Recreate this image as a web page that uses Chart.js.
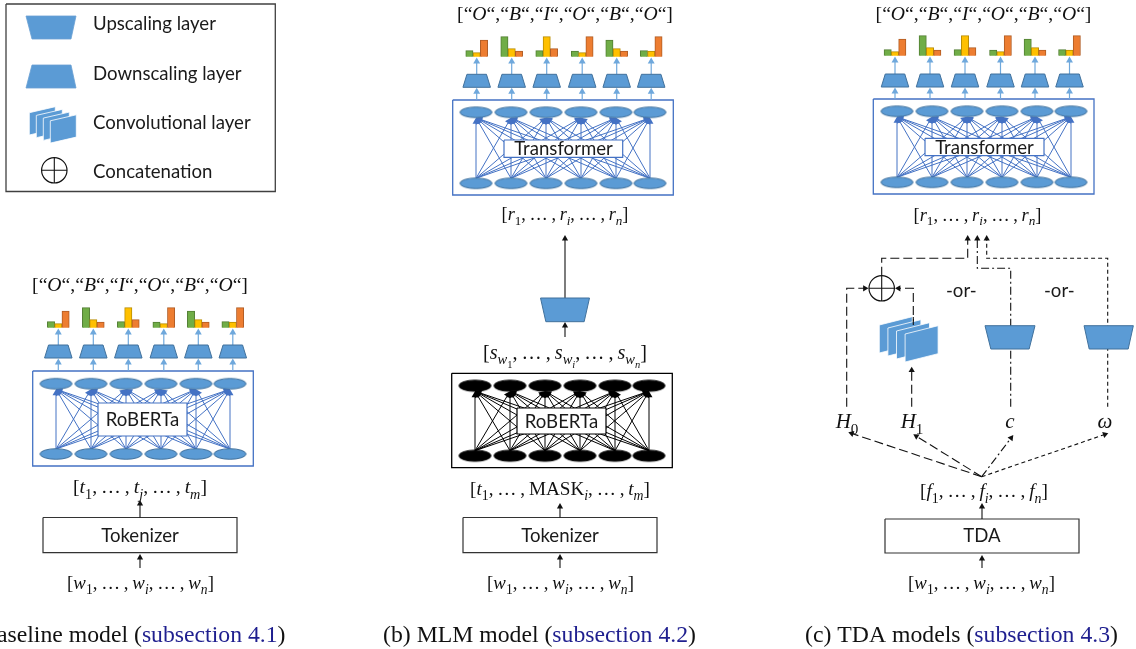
<!DOCTYPE html>
<html><head><meta charset="utf-8">
<style>html,body{margin:0;padding:0;background:#fff;overflow:hidden}canvas{display:block}</style>
<script src="https://cdn.jsdelivr.net/npm/chart.js@4"></script>
</head><body><canvas id="c" width="1136" height="649" style="width:1136px;height:649px"></canvas>
<script>
// ---- values ----
const tagSequence = ['O','B','I','O','B','O'];
const greenBars  = [6, 20, 6, 5.5, 16.5, 6];
const yellowBars = [4, 8, 20, 4, 8, 5.5];
const orangeBars = [16.5, 5.5, 8, 20, 5.5, 20];
const legendLabels = ['Upscaling layer','Downscaling layer','Convolutional layer','Concatenation'];
const boxLabels = ['RoBERTa','Transformer','Tokenizer','TDA'];
const orLabel = '-or-';
const captionLabels = ['(a) Baseline model (','(b) MLM model (','(c) TDA models ('];
const captionLinks = ['subsection 4.1','subsection 4.2','subsection 4.3'];

// ---- style ----
const BLUE='#5b9bd5', BLUE_EDGE='#41719c', NET='#4472c4', ARROW='#6fa8dc', INK='#1a1a1a';
const SOLID=[1000,0], LONG=[9,4], SHORT=[4,3], DASHDOT=[8,3,2,3];
const SANS='Lato', SERIF='"Liberation Serif"';
const ELL=',\u2009…\u2009,\u2009';
const datasets=[];

function pt(p){return {x:p[0],y:p[1]};}
function line(pts,color,width,dash){
  datasets.push({type:'scatter',showLine:true,data:pts.map(pt),borderColor:color,borderWidth:width,
    borderDash:dash||SOLID,pointRadius:0,fill:false,tension:0});
}
function arrow(pts,color,width,dash,r){
  const n=pts.length,a=pts[n-2],b=pts[n-1],dx=b[0]-a[0],dy=b[1]-a[1],L=Math.hypot(dx,dy);
  const c=[b[0]-dx/L*r,b[1]-dy/L*r];
  const path=pts.slice(0,n-1).concat([c]);
  datasets.push({type:'scatter',showLine:true,data:path.map(pt),borderColor:color,borderWidth:width,
    borderDash:dash||SOLID,fill:false,tension:0,
    pointStyle:'triangle',
    pointRadius:path.map((_,i)=>i===path.length-1?r:0),
    pointRotation:Math.atan2(dx,-dy)*180/Math.PI,
    pointBackgroundColor:color,pointBorderColor:color,pointBorderWidth:0});
}
function poly(pts,fillCol,stroke,width){
  const closed=pts.concat([pts[0]]);
  datasets.push({type:'scatter',showLine:true,data:closed.map(pt),borderColor:stroke,borderWidth:width,
    borderDash:SOLID,backgroundColor:fillCol,fill:fillCol?'shape':false,pointRadius:0,tension:0});
}
function rect(l,t,r,b,fillCol,stroke,width){poly([[l,t],[r,t],[r,b],[l,b]],fillCol,stroke,width);}
function trap(cx,top,h,topW,botW){
  poly([[cx-topW/2,top],[cx+topW/2,top],[cx+botW/2,top+h],[cx-botW/2,top+h]],BLUE,BLUE_EDGE,1);
}
function sheets(x,y,w,h,slant,dx,dy){
  for(let i=0;i<4;i++){
    const X=x+dx*i,Y=y+dy*i;
    poly([[X,Y],[X+w,Y-slant],[X+w,Y-slant+h],[X,Y+h]],BLUE,'#ffffff',0.8);
  }
}
function ovalCanvas(rx,ry,f,s){
  const c=document.createElement('canvas');c.width=Math.ceil(rx*2+3);c.height=Math.ceil(ry*2+3);
  const g=c.getContext('2d');g.beginPath();g.ellipse(c.width/2,c.height/2,rx,ry,0,0,Math.PI*2);
  g.fillStyle=f;g.fill();g.strokeStyle=s;g.lineWidth=1;g.stroke();return c;
}
function ovals(xs,y,img){
  datasets.push({type:'scatter',showLine:false,data:xs.map(x=>({x,y})),pointStyle:img,pointRadius:10});
}
function oplus(x,y,r){
  datasets.push({type:'scatter',showLine:false,data:[{x,y}],pointStyle:'circle',pointRadius:r,
    pointBackgroundColor:'#fff',pointBorderColor:'#111',pointBorderWidth:1.2});
  datasets.push({type:'scatter',showLine:false,data:[{x,y}],pointStyle:'cross',pointRadius:r,
    pointBorderColor:'#111',pointBorderWidth:1.1});
}
function bars(values,xs,base,color,edge){
  datasets.push({type:'bar',data:values.map((v,i)=>({x:xs[i],y:base-v})),base,backgroundColor:color,
    borderColor:edge,borderWidth:1,barThickness:7.3,grouped:false});
}
// network block
const COL=[0,35,70,105,140,174];
function net(x0,topY,botY,box,labelBox,netCol,oval,boxCol){
  const xs=COL.map(c=>x0+c);
  xs.forEach(b=>xs.forEach(t=>arrow([[b,botY-5],[t,topY+5.5]],netCol,1,SOLID,4)));
  ovals(xs,topY,oval);ovals(xs,botY,oval);
  rect(box[0],box[1],box[2],box[3],null,boxCol,1.3);
  rect(labelBox[0],labelBox[1],labelBox[2],labelBox[3],'#fff',boxCol,1.2);
}
const HEAD=[0,35,70,105.5,140,174.5];
function head(x0,trapTop,barBase,boxTop){
  const xs=HEAD.map(c=>x0+c);
  xs.forEach(x=>{
    arrow([[x,boxTop],[x,trapTop+13.5]],ARROW,1.2,SOLID,4);
    arrow([[x,trapTop],[x,barBase+0.7]],ARROW,1.2,SOLID,4);
    trap(x,trapTop,13,19.5,27.5);
  });
  bars(greenBars,xs.map(x=>x-7.3),barBase,'#70ad47','#527f33');
  bars(yellowBars,xs,barBase,'#ffc000','#b98c00');
  bars(orangeBars,xs.map(x=>x+7.3),barBase,'#ed7d31','#b05c24');
}
const blueOval=ovalCanvas(16,5.3,BLUE,BLUE_EDGE), blackOval=ovalCanvas(16,5.6,'#000','#000');
const K='#111';
function vArrow(x,y0,y1){arrow([[x,y0],[x,y1]],K,1.1,SOLID,3.6);}

// legend
rect(6,4,275.3,191.5,null,'#404040',1.3);
poly([[26,16],[76,16],[71,39],[32,39]],BLUE,'#6a9fd3',0.8);
poly([[32,65],[71,65],[76,88],[26,88]],BLUE,'#6a9fd3',0.8);
sheets(29.3,112.7,26,22.3,6,7,2.7);
oplus(54.3,170.3,12.7);

// panel a
net(56,383.7,454,[32.7,371,253.3,466],[98,403,187,436],NET,blueOval,NET);
head(58.3,345,327.7,371);
rect(43,517.5,237,552.7,'#fff','#333',1.2);
vArrow(140,517.5,500); vArrow(140,568,554);

// panel b
net(476,112.3,183.3,[452.7,100,673.3,195],[504,140,622.7,157.3],NET,blueOval,NET);
head(476.7,74.3,56.7,100);
arrow([[565,298],[565,235]],K,1.1,SOLID,3.6);
vArrow(565,337,322);
trap(565,298,23.7,49,38.3);
net(475,385.7,455.7,[451.7,373.3,672.3,467.7],[517,408,606,434],'#000',blackOval,'#000');
rect(463,517.5,657,552.7,'#fff','#333',1.2);
vArrow(560,517.5,503); vArrow(560,568,554);

// panel c
net(897,111.3,182.3,[873.3,99,1094,194],[925,138.3,1044,155.7],NET,blueOval,NET);
head(895,74,55.7,99);
const org=[981.7,476.7];
arrow([org,[848.3,432.3]],K,1.1,LONG,3.6);
arrow([org,[913.3,434.3]],K,1.1,LONG,3.6);
arrow([org,[1013.3,435]],K,1.1,DASHDOT,3.6);
arrow([org,[1108.3,433.3]],K,1.1,SHORT,3.6);
arrow([[846.7,406.7],[846.7,288.3],[868.5,288.3]],K,1.1,LONG,3.6);
arrow([[911.7,406.7],[911.7,366.7]],K,1.1,LONG,3.6);
arrow([[913.3,328],[913.3,288.3],[895,288.3]],K,1.1,LONG,3.6);
arrow([[881.7,275.7],[881.7,258.3],[967.7,258.3],[967.7,235]],K,1.1,LONG,3.6);
arrow([[1010.7,406.7],[1010.7,268.3],[977.3,268.3],[977.3,235]],K,1.1,DASHDOT,3.6);
arrow([[1107.7,406.7],[1107.7,258.3],[986.7,258.3],[986.7,235]],K,1.1,SHORT,3.6);
oplus(881.7,288.3,12.7);
sheets(879.3,325,33,28,8.3,8.6,3);
line([[913.3,317],[913.3,325]],K,1.1);
trap(1010,325.7,23.3,50,38.3);
trap(1108.7,325.7,23.3,49.3,39);
rect(885,519,1079,553,'#fff','#333',1.2);
vArrow(982,519,503); vArrow(982,568,555);

// text plugin
function R(t,s,l,c){return {t,s:s||'r',l:l||0,c};}
function listRuns(sym,subs){
  const out=[R('[')];
  subs.forEach((sb,i)=>{
    if(i)out.push(R(ELL));
    out.push(R(sb[2]||sym,'i'));
    out.push(R(sb[0],sb[1]||'i',1));
  });
  out.push(R(']'));return out;
}
function fontOf(r,size){
  const k=r.l===0?1:(r.l===1?0.72:0.52);
  return (r.s==='i'?'italic ':'')+(size*k)+'px '+(r.f||SERIF);
}
function rich(ctx,runs,cy,o){
  let size=o.size||20;
  const meas=s=>{let w=0;runs.forEach(r=>{ctx.font=fontOf(r,s);w+=ctx.measureText(r.t).width;});return w;};
  if(o.w){size=size*o.w/meas(size);}
  const W=meas(size);
  let x=o.right!==undefined?o.right-W:o.cx-W/2;
  ctx.textBaseline='alphabetic';ctx.textAlign='left';
  const y=cy+size*0.3;
  runs.forEach(r=>{
    ctx.font=fontOf(r,size);ctx.fillStyle=r.c||'#111';
    const dy=r.l===0?0:(r.l===1?size*0.27:size*0.45);
    ctx.fillText(r.t,x,y+dy);
    x+=ctx.measureText(r.t).width;
  });
  return size;
}
function plain(ctx,s,x,y,size,align){
  ctx.font=size+'px '+SANS;ctx.fillStyle=INK;ctx.textAlign=align||'center';ctx.textBaseline='middle';
  ctx.fillText(s,x,y);
}
function tagRuns(){
  const out=[R('[')];
  tagSequence.forEach((t,i)=>{if(i)out.push(R(','));out.push(R('“'));out.push(R(t,'i'));out.push(R('“'));});
  out.push(R(']'));return out;
}
const textPlugin={id:'text',afterDatasetsDraw(ch){
  const c=ch.ctx;c.save();
  const LS=18.6;
  [24,73.7,122.7,171.7].forEach((y,i)=>plain(c,legendLabels[i],93,y,LS,'left'));
  plain(c,boxLabels[0],142.5,420,LS,'center');
  plain(c,boxLabels[1],563.5,149,LS,'center');
  plain(c,boxLabels[1],984.5,147.5,LS,'center');
  plain(c,boxLabels[0],561.5,421.5,LS,'center');
  plain(c,boxLabels[2],140,535.5,LS,'center');
  plain(c,boxLabels[2],560,535.5,LS,'center');
  plain(c,boxLabels[3],982,536,LS,'center');
  plain(c,orLabel,961.3,290.7,LS,'center');
  plain(c,orLabel,1059.3,290.7,LS,'center');
  rich(c,tagRuns(),285,{cx:140,w:216});
  rich(c,tagRuns(),14,{cx:565,w:216});
  rich(c,tagRuns(),14,{cx:983.5,w:216});
  const w=listRuns('w',[['1','r'],['i'],['n']]);
  rich(c,w,583,{cx:140.5,w:147}); rich(c,w,583,{cx:560.5,w:147}); rich(c,w,583,{cx:981.5,w:147});
  rich(c,listRuns('t',[['1','r'],['j'],['m']]),487.5,{cx:140,w:134});
  rich(c,listRuns('r',[['1','r'],['i'],['n']]),215,{cx:565,w:127});
  rich(c,listRuns('r',[['1','r'],['i'],['n']]),215,{cx:977.5,w:128});
  rich(c,listRuns('f',[['1','r'],['i'],['n']]),491.5,{cx:984,w:128});
  rich(c,[R('['),R('t','i'),R('1','r',1),R(ELL+'MASK'),R('i','i',1),R(ELL),R('t','i'),R('m','i',1),R(']')],489,{cx:560,w:180});
  rich(c,[R('['),R('s','i'),R('w','i',1),R('1','r',2),R(ELL),R('s','i'),R('w','i',1),R('i','i',2),R(ELL),R('s','i'),R('w','i',1),R('n','i',2),R(']')],353,{cx:565,w:164});
  rich(c,[R('H','i'),R('0','r',1)],421.6,{cx:847,size:21});
  rich(c,[R('H','i'),R('1','r',1)],421.6,{cx:912,size:21});
  rich(c,[R('c','i')],421.6,{cx:1010,size:21});
  rich(c,[R('ω','i')],421.6,{cx:1105,size:21});
  const NAVY='#1f1f8f';
  const cap=i=>[R(captionLabels[i]),R(captionLinks[i],'r',0,NAVY),R(')')];
  const capSize=rich(c,cap(1),635,{cx:539.5,w:313});
  rich(c,cap(2),635,{cx:961.5,size:capSize});
  rich(c,cap(0),635,{right:285.5,size:capSize});
  c.restore();
}};

datasets.forEach((d,i)=>{d.order=datasets.length-i;});
new Chart(document.getElementById('c'),{
  type:'scatter',
  data:{datasets},
  options:{responsive:false,animation:false,events:[],devicePixelRatio:1,
    layout:{padding:0,autoPadding:false},
    plugins:{legend:{display:false},tooltip:{enabled:false},title:{display:false}},
    scales:{
      x:{type:'linear',min:0,max:1136,display:false,offset:false,grid:{offset:false}},
      y:{type:'linear',min:0,max:649,reverse:true,display:false,offset:false}
    }},
  plugins:[textPlugin]
});
</script></body></html>
